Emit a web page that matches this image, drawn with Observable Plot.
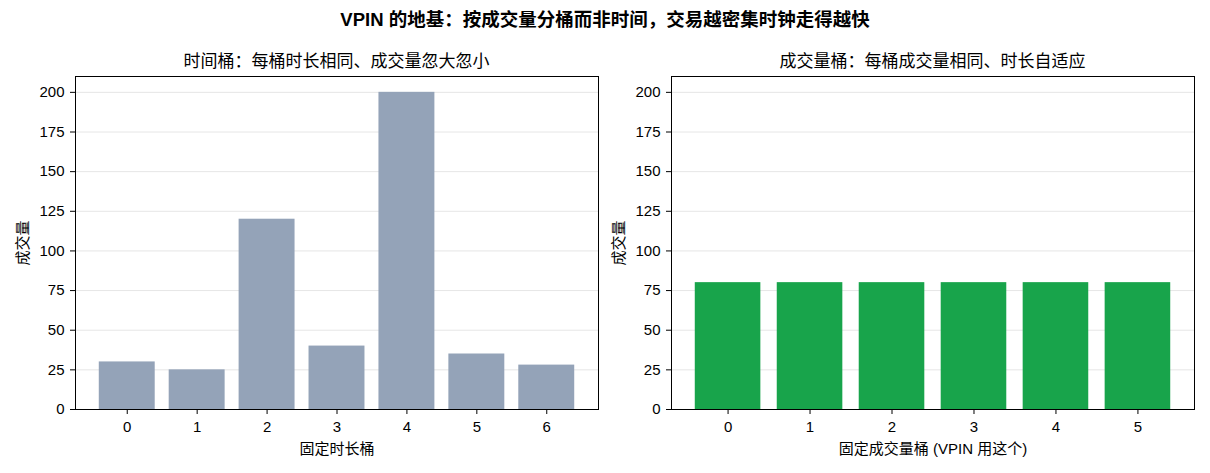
<!DOCTYPE html>
<html>
<head>
<meta charset="utf-8">
<script src="https://cdn.jsdelivr.net/npm/d3@7"></script>
<script src="https://cdn.jsdelivr.net/npm/@observablehq/plot@0.6"></script>
<style>
  html, body { margin: 0; padding: 0; background: #fff; }
  #root { position: relative; width: 1210px; height: 473px; overflow: hidden;
          font-family: "Liberation Sans", "Noto Sans CJK SC", sans-serif; color: #000; }
  .title { position: absolute; top: 8px; left: 0; width: 1210px; text-align: center;
           font-size: 18.5px; line-height: 24px; font-weight: bold; }
  .sub { position: absolute; top: 51px; font-size: 17px; line-height: 22px; text-align: center; }
  .panel { position: absolute; top: 0; }
  .panel svg text { font-size: 15px; }
</style>
</head>
<body>
<div id="root">
  <div class="title">VPIN 的地基：按成交量分桶而非时间，交易越密集时钟走得越快</div>
  <div class="sub" id="sub1" style="left:75px;width:523px;">时间桶：每桶时长相同、成交量忽大忽小</div>
  <div class="sub" id="sub2" style="left:671px;width:523px;">成交量桶：每桶成交量相同、时长自适应</div>
  <div class="panel" id="p1" style="left:0px;"></div>
  <div class="panel" id="p2" style="left:605px;"></div>
</div>
<script>
const timeBuckets = [0, 1, 2, 3, 4, 5, 6];
const timeVolumes = [30, 25, 120, 40, 200, 35, 28];
const volBuckets = [0, 1, 2, 3, 4, 5];
const volVolumes = [80, 80, 80, 80, 80, 80];
const yTicks = [0, 25, 50, 75, 100, 125, 150, 175, 200];
const yLabel = "成交量";
const xLabelLeft = "固定时长桶";
const xLabelRight = "固定成交量桶 (VPIN 用这个)";

function panel(buckets, values, color, xLabel, mLeft, mRight, padOuter, yLabelOffset) {
  const data = buckets.map((b, i) => ({b, v: values[i]}));
  return Plot.plot({
    width: 605,
    height: 473,
    marginTop: 76,
    marginBottom: 64,
    marginLeft: mLeft,
    marginRight: mRight,
    style: {fontFamily: '"Liberation Sans", "Noto Sans CJK SC", sans-serif', fontSize: "15px", color: "#000", background: "transparent"},
    x: {type: "band", domain: buckets, paddingInner: 0.2, paddingOuter: padOuter, align: 0.5, round: false},
    y: {domain: [0, 210]},
    marks: [
      Plot.gridY(yTicks, {stroke: "#e6e6e6", strokeOpacity: 1, strokeWidth: 1}),
      Plot.barY(data, {x: "b", y: "v", fill: color}),
      Plot.axisX({tickSize: 5, tickPadding: 7, stroke: "#000", label: xLabel, labelAnchor: "center", labelArrow: "none", labelOffset: 44}),
      Plot.axisY(yTicks, {tickSize: 5, tickPadding: 6, label: yLabel, labelAnchor: "center", labelArrow: "none", labelOffset: yLabelOffset}),
      Plot.frame({stroke: "#000", strokeWidth: 1})
    ]
  });
}

document.getElementById("p1").appendChild(
  panel(timeBuckets, timeVolumes, "#94a3b8", xLabelLeft, 75, 7, 0.34, 58));
document.getElementById("p2").appendChild(
  panel(volBuckets, volVolumes, "#18a44b", xLabelRight, 66, 16, 0.29, 58));
</script>
</body>
</html>
